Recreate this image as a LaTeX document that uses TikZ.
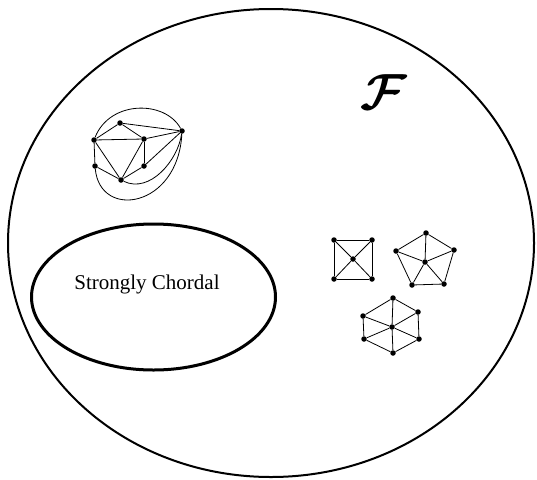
\documentclass[tikz,border=0pt]{standalone}
\usepackage{fontspec}
\setmainfont{Liberation Serif}
\usepackage{amsmath}
\tikzset{vtx/.style={circle,fill,inner sep=0pt,minimum size=5.5pt},
  edge/.style={line width=0.8pt}}

\begin{document}
\begin{tikzpicture}[x=1pt,y=-1pt,line join=round]
    \useasboundingbox (0,0) rectangle (537,479);
    % the family and the strongly chordal class
    \draw [line width=2pt] (271,243) ellipse [x radius=263pt,y radius=234pt];
    \draw [line width=3pt] (153.5,297) ellipse [x radius=122pt,y radius=73pt];
    \node (sc) at (147,284) {\fontsize{21}{25}\selectfont Strongly Chordal};
    \node [scale=2.45] (fam) at (384,92) {\huge$\boldsymbol{\mathcal{F}}$};
    % graph with curved edges
    \node [vtx] (ga) at (120,123) {};
    \node [vtx] (gb) at (94,140) {};
    \node [vtx] (gc) at (144,139) {};
    \node [vtx] (gd) at (182,131) {};
    \node [vtx] (ge) at (95,166) {};
    \node [vtx] (gf) at (144,166) {};
    \node [vtx] (gg) at (121,180) {};
    \foreach \u/\v in {ga/gb,ga/gc,ga/gd,gb/gc,gc/gd,gb/ge,gb/gg,ge/gg,gc/gg,gc/gf,gf/gg,gf/gd}
      \draw [edge] (\u) -- (\v);
    \draw [edge] (gb) .. controls (110,100) and (165,100) .. (gd);
    \draw [edge] (ge) .. controls (100,220) and (178,208) .. (gd);
    \draw [edge] (gg) .. controls (150,194) and (178,160) .. (gd);
    % wheel on four
    \node [vtx] (sa) at (334,240) {};
    \node [vtx] (sb) at (372,240) {};
    \node [vtx] (sc') at (372,279) {};
    \node [vtx] (sd) at (334,279) {};
    \node [vtx] (so) at (353,259) {};
    \foreach \u/\v in {sa/sb,sb/sc',sc'/sd,sd/sa,sa/so,so/sc',sb/so,so/sd}
      \draw [edge] (\u) -- (\v);
    % wheel on five
    \node [vtx] (pa) at (426,233) {};
    \node [vtx] (pb) at (454,250) {};
    \node [vtx] (pc) at (444,284) {};
    \node [vtx] (pd) at (412,285) {};
    \node [vtx] (pe) at (396,251) {};
    \node [vtx] (po) at (425,262) {};
    \foreach \u/\v in {pa/pb,pb/pc,pc/pd,pd/pe,pe/pa}{
      \draw [edge] (\u) -- (\v);
      \draw [edge] (po) -- (\u);
    }
    % wheel on six
    \node [vtx] (ha) at (393,298) {};
    \node [vtx] (hb) at (418,312) {};
    \node [vtx] (hc) at (419,339) {};
    \node [vtx] (hd) at (393,353) {};
    \node [vtx] (he) at (364,339) {};
    \node [vtx] (hf) at (363,316) {};
    \node [vtx] (ho) at (392,327) {};
    \foreach \u/\v in {ha/hb,hb/hc,hc/hd,hd/he,he/hf,hf/ha}{
      \draw [edge] (\u) -- (\v);
      \draw [edge] (ho) -- (\u);
    }
\end{tikzpicture}
\end{document}
